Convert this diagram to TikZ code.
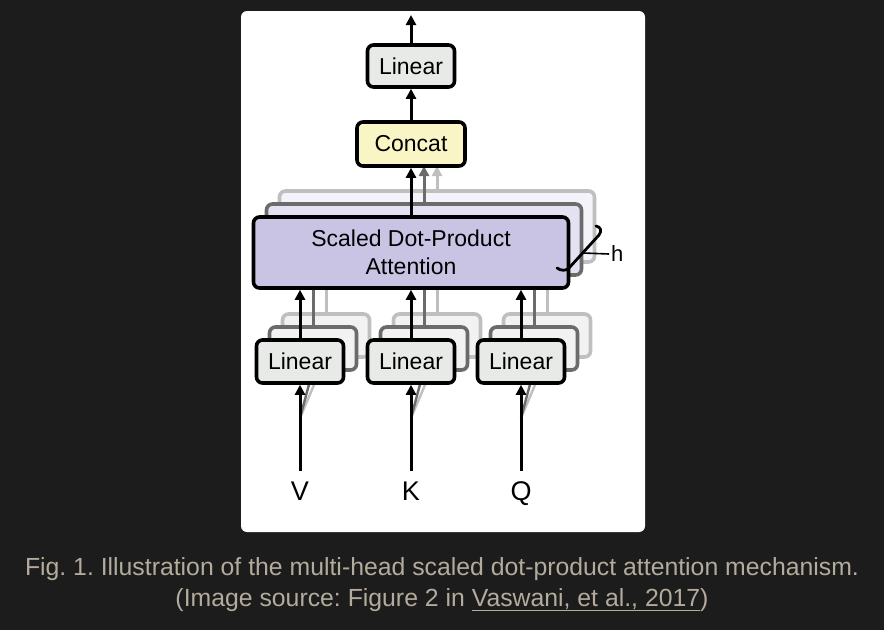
\documentclass[tikz,border=0pt]{standalone}
\usepackage{fontspec}
\setmainfont{Liberation Sans}
\usetikzlibrary{arrows.meta,decorations.pathreplacing,positioning}
\definecolor{pagebg}{HTML}{1C1C1C}
\definecolor{captext}{HTML}{B3AB9B}
\definecolor{attnfill}{HTML}{C9C4E4}
\definecolor{linfill}{HTML}{E8EAE8}
\definecolor{catfill}{HTML}{FAF5C5}
\tikzset{
  block/.style={draw=black,line width=3.6pt,rounded corners=6pt,fill=linfill,
    inner sep=0pt,font=\fontsize{23}{28}\selectfont},
  flow/.style={line width=3pt,-{Triangle[length=10pt,width=10pt]}},
  inlabel/.style={inner xsep=0pt,inner ysep=10pt,font=\fontsize{27}{30}\selectfont},
}
\frenchspacing

\begin{document}
\begin{tikzpicture}[x=1pt,y=-1pt]
      % Page
      \fill[pagebg] (0,0) rectangle (884,630);
      \fill[white,rounded corners=6pt] (241,11) rectangle (645,532);
      \useasboundingbox (0,0) rectangle (884,630);
      \coordinate (catbase) at (411,166);
      \foreach \n/\x in {V/300,K/411,Q/521} \coordinate (fan\n) at (\x,418);
      % Heads behind
      \foreach \k/\edge/\shade in {2/black!25/20, 1/black!58/50} {
        \begin{scope}[shift={(13*\k,-13*\k)}]
          \foreach \n/\x in {V/300,K/411,Q/521}
            \draw[line width=2.4pt,\edge] (fan\n) -- (\x,382.5);
          \node[block,draw=\edge,fill=attnfill!\shade!white,minimum width=315pt,minimum height=71pt] (attn\k) at (411,252.5) {};
          \foreach \n/\x in {V/300,K/411,Q/521} {
            \node[block,draw=\edge,fill=linfill!60!white,minimum width=87pt,minimum height=43pt] (lin\n\k) at (\x,361.5) {};
            \draw[flow,\edge] (lin\n\k) -- (lin\n\k |- attn\k.south);
          }
        \end{scope}
        \draw[flow,\edge] (attn\k.north) -- (attn\k.north |- catbase);
      }
      % Front head
      \node[block,fill=attnfill,minimum width=315pt,minimum height=71pt,align=center] (attn) at (411,252.5) {Scaled Dot-Product\\Attention};
      \foreach \n/\x in {V/300,K/411,Q/521} {
        \node[block,minimum width=87pt,minimum height=43pt] (lin\n) at (\x,361.5) {Linear};
        \node[inlabel,anchor=base] (\n) at (\x,500) {\n};
        \draw[flow] (\n.north) -- (\n.north |- lin\n.south);
        \draw[flow] (lin\n) -- (lin\n |- attn.south);
      }
      % Output
      \node[block,fill=catfill,minimum width=108pt,minimum height=44pt] (concat) at (411,144) {Concat};
      \node[block,minimum width=87pt,minimum height=42pt] (lintop) at (411,66) {Linear};
      \coordinate (out) at (411,15);
      \draw[flow] (attn) -- (concat);
      \draw[flow] (concat) -- (lintop);
      \draw[flow] (lintop) -- (out);
      % Heads bracket
      \draw[line width=2.8pt,line cap=round] (596,226) .. controls (601,227) and (602,231) .. (599,235)
        -- (569,268) .. controls (566,271) and (561,271) .. (557,268);
      \coordinate (hook) at (583,253);
      \node[anchor=west,inner sep=2pt,font=\fontsize{22}{24}\selectfont] (heads) at (609,254) {h};
      \draw[line width=1.6pt] (hook) -- (heads.west);
      % Caption
      \node[anchor=base,text=captext,font=\fontsize{24.8}{30}\selectfont] (cap1) at (442,575) {Fig. 1. Illustration of the multi-head scaled dot-product attention mechanism.};
      \node[anchor=base,text=captext,font=\fontsize{24.8}{30}\selectfont] (cap2) at (442,606) {(Image source: Figure 2 in \underline{Vaswani, et al., 2017})};
    \end{tikzpicture}
\end{document}
